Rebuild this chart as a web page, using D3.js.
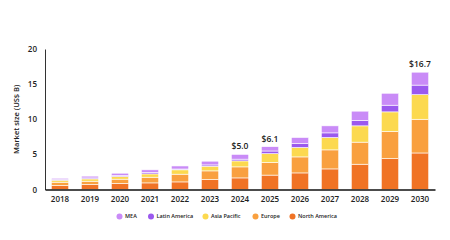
<!DOCTYPE html>
<html>
<head>
<meta charset="utf-8">
<script src="https://cdn.jsdelivr.net/npm/d3@7"></script>
<style>
  body { margin: 0; background: #fff; }
  svg text { font-family: "Open Sans", "Noto Sans", sans-serif; fill: #222; }
</style>
</head>
<body>
<div id="chart"></div>
<script>
const years = ["2018","2019","2020","2021","2022","2023","2024","2025","2026","2027","2028","2029","2030"];
const northAmerica = [0.57, 0.71, 0.86, 0.94, 1.08, 1.42, 1.65, 2.05, 2.36, 2.93, 3.6, 4.4, 5.2];
const europe =       [0.47, 0.47, 0.61, 0.81, 1.1, 1.23, 1.57, 1.8, 2.28, 2.71, 3.14, 3.86, 4.8];
const asiaPacific =  [0.29, 0.33, 0.38, 0.47, 0.62, 0.67, 0.85, 1.25, 1.34, 1.76, 2.32, 2.79, 3.5];
const latinAmerica = [0.14, 0.14, 0.14, 0.2, 0.12, 0.18, 0.25, 0.38, 0.57, 0.66, 0.77, 0.95, 1.36];
const mea =          [0.14, 0.25, 0.33, 0.38, 0.43, 0.53, 0.68, 0.62, 0.85, 1.0, 1.32, 1.7, 1.84];
const yTicks = [0, 5, 10, 15, 20];
const labeledYears = {"2024": "$5.0", "2025": "$6.1", "2030": "$16.7"};

const seriesNames = ["North America", "Europe", "Asia Pacific", "Latin America", "MEA"];
const seriesColors = ["#f07325", "#f9a03f", "#fcd94f", "#9b59ee", "#c98bf7"];
const legendOrder = ["MEA", "Latin America", "Asia Pacific", "Europe", "North America"];

const buildChart = () => {
    const width = 450, height = 240;
    const x0 = 45, x1 = 435, yBase = 189.5, yTop = 49;

    const rows = years.map((y, i) => ({
        year: y,
        "North America": northAmerica[i],
        "Europe": europe[i],
        "Asia Pacific": asiaPacific[i],
        "Latin America": latinAmerica[i],
        "MEA": mea[i]
    }));

    const svg = d3.select("#chart").append("svg")
        .attr("width", width)
        .attr("height", height);

    const x = d3.scaleBand()
        .domain(years)
        .range([x0, x1])
        .paddingInner(0.42)
        .paddingOuter(0.21);

    const y = d3.scaleLinear()
        .domain([0, 20])
        .range([yBase, yTop]);

    const color = d3.scaleOrdinal().domain(seriesNames).range(seriesColors);

    const stacked = d3.stack().keys(seriesNames)(rows);

    svg.append("g")
        .selectAll("g")
        .data(stacked)
        .enter()
        .append("g")
        .attr("fill", d => color(d.key))
        .selectAll("rect")
        .data(d => d)
        .enter()
        .append("rect")
        .attr("x", d => x(d.data.year))
        .attr("width", x.bandwidth())
        .attr("y", d => y(d[1]))
        .attr("height", d => y(d[0]) - y(d[1]))
        .attr("stroke", "#fff")
        .attr("stroke-width", 0.6);

    // y axis
    const yAxis = d3.axisLeft(y).tickValues(yTicks).tickSize(0).tickPadding(8);
    const ya = svg.append("g")
        .attr("transform", `translate(${x0},0)`)
        .call(yAxis);
    ya.select(".domain").attr("stroke", "#333").attr("stroke-width", 1);
    ya.selectAll("text").style("font-size", "8px").style("font-weight", 600);

    // x axis
    const xAxis = d3.axisBottom(x).tickSize(0).tickPadding(7);
    const xa = svg.append("g")
        .attr("transform", `translate(0,${yBase})`)
        .call(xAxis);
    xa.select(".domain").attr("stroke", "#111").attr("stroke-width", 1.6);
    xa.selectAll("text").style("font-size", "8px").style("font-weight", 600);

    svg.append("text")
        .attr("transform", `translate(19,${(yTop + yBase) / 2}) rotate(-90)`)
        .attr("text-anchor", "middle")
        .style("font-size", "7.5px")
        .style("font-weight", 600)
        .text("Market size (US$ B)");

    // totals
    svg.append("g")
        .selectAll("text")
        .data(rows.filter(r => labeledYears[r.year]))
        .enter()
        .append("text")
        .attr("x", d => x(d.year) + x.bandwidth() / 2)
        .attr("y", d => y(d3.sum(seriesNames, k => d[k])) - 5)
        .attr("text-anchor", "middle")
        .style("font-size", "8.5px")
        .style("font-weight", 600)
        .text(d => labeledYears[d.year]);

    // legend
    const legendX = [119.5, 151, 205.5, 255.5, 292.5];
    const lg = svg.append("g")
        .selectAll("g")
        .data(legendOrder)
        .enter()
        .append("g")
        .attr("transform", (d, i) => `translate(${legendX[i]},216.5)`);
    lg.append("circle").attr("r", 3).attr("fill", d => color(d));
    lg.append("text")
        .attr("x", 5.5)
        .attr("dy", "0.35em")
        .style("font-size", "5.5px")
        .style("font-weight", 600)
        .text(d => d);
};

buildChart();
</script>
</body>
</html>
